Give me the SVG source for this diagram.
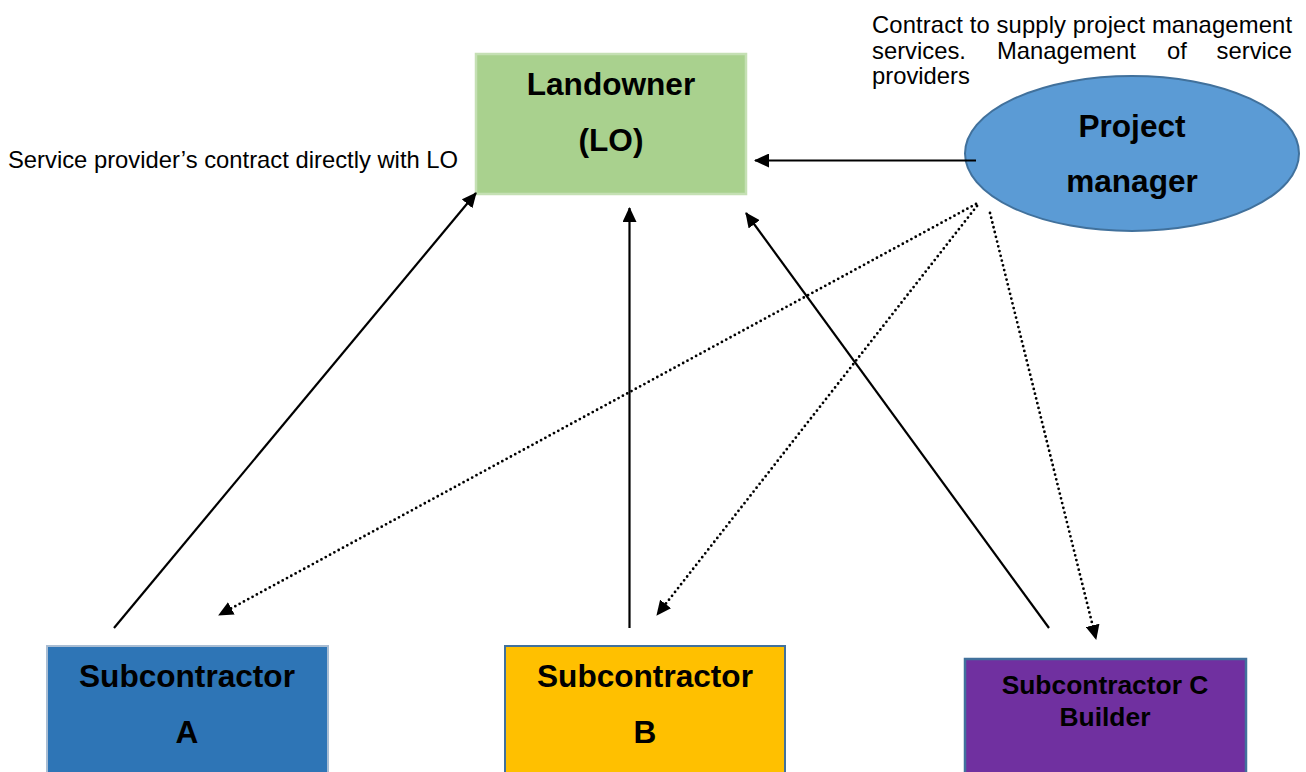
<svg xmlns="http://www.w3.org/2000/svg" width="1306" height="772" viewBox="0 0 1306 772">
<defs>
<style>
.t{font-family:"Liberation Sans",Arial,sans-serif;fill:#000}
.b{font-weight:bold;font-size:31.6px;text-anchor:middle}
.n{font-size:23.8px}
.solid{stroke:#000;stroke-width:2.2;fill:none}
.dot{stroke:#000;stroke-width:2.8;fill:none;stroke-dasharray:0 4.9;stroke-linecap:round}
</style>
<marker id="ah" markerWidth="15" markerHeight="14" refX="14" refY="7" orient="auto" markerUnits="userSpaceOnUse">
<path d="M0,0 L15,7 L0,14 Z" fill="#000"/>
</marker>
</defs>
<rect width="1306" height="772" fill="#fff"/>

<g id="landowner">
<rect x="476" y="54" width="270" height="140" fill="#A9D18E" stroke="#C5E0B4" stroke-width="2.5"/>
<text class="t b" x="611" y="95">Landowner</text>
<text class="t b" x="611" y="151">(LO)</text>
</g>

<g id="project-manager">
<ellipse cx="1132" cy="153.5" rx="167" ry="77.5" fill="#5B9BD5" stroke="#41719C" stroke-width="2"/>
<text class="t b" x="1132" y="137">Project</text>
<text class="t b" x="1132" y="192">manager</text>
</g>

<g id="sub-a">
<rect x="47" y="646" width="281" height="140" fill="#2E75B6" stroke="#A9BDD3" stroke-width="2"/>
<text class="t b" x="187" y="687">Subcontractor</text>
<text class="t b" x="187" y="743">A</text>
</g>

<g id="sub-b">
<rect x="505" y="646" width="280" height="140" fill="#FFC000" stroke="#41719C" stroke-width="2"/>
<text class="t b" x="645" y="687">Subcontractor</text>
<text class="t b" x="645" y="743">B</text>
</g>

<g id="sub-c">
<rect x="965" y="659" width="281" height="130" fill="#7030A0" stroke="#41719C" stroke-width="2.5"/>
<text class="t b" x="1105" y="694" style="font-size:26.4px">Subcontractor C</text>
<text class="t b" x="1105" y="726" style="font-size:26.4px">Builder</text>
</g>

<g id="labels">
<text class="t n" x="8" y="168">Service provider’s contract directly with LO</text>
<text class="t n" x="872" y="33" textLength="420" lengthAdjust="spacing">Contract to supply project management</text>
<text class="t n" y="58.5"><tspan x="872">services.</tspan><tspan x="997">Management</tspan><tspan x="1167">of</tspan><tspan x="1292" text-anchor="end">service</tspan></text>
<text class="t n" x="872" y="84">providers</text>
</g>

<g id="connectors">
<line class="solid" x1="114" y1="628" x2="476" y2="193" marker-end="url(#ah)"/>
<line class="solid" x1="629.5" y1="628" x2="629.5" y2="208" marker-end="url(#ah)"/>
<line class="solid" x1="1049" y1="628" x2="746" y2="213" marker-end="url(#ah)"/>
<line class="solid" x1="976" y1="160.5" x2="755" y2="160.5" marker-end="url(#ah)"/>
<line class="dot" x1="976" y1="204" x2="219" y2="615" marker-end="url(#ah)"/>
<line class="dot" x1="977" y1="206" x2="657" y2="615" marker-end="url(#ah)"/>
<line class="dot" x1="990" y1="213" x2="1096" y2="639" marker-end="url(#ah)"/>
</g>
</svg>
